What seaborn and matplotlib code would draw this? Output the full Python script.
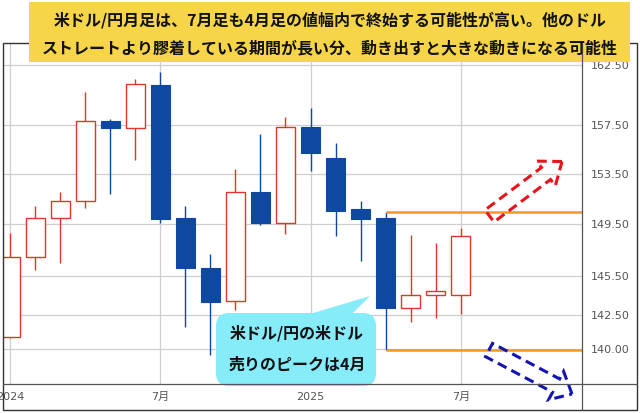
import matplotlib
matplotlib.use("Agg")
import numpy as np
import pandas as pd
import matplotlib.pyplot as plt
import seaborn as sns
from matplotlib.patches import FancyBboxPatch, Polygon, FancyArrow, Rectangle
from matplotlib.ticker import FixedLocator, FixedFormatter, NullLocator

# 米ドル/円 月足 (始値・高値・安値・終値)
months = ['2024-01', '2024-02', '2024-03', '2024-04', '2024-05', '2024-06',
          '2024-07', '2024-08', '2024-09', '2024-10', '2024-11', '2024-12',
          '2025-01', '2025-02', '2025-03', '2025-04', '2025-05', '2025-06',
          '2025-07']
opens = [140.9, 146.9, 149.95, 151.3, 157.8, 157.2, 160.8, 149.97, 146.1, 143.6,
         152.0, 149.6, 157.3, 154.8, 150.7, 150.0, 143.05, 144.0, 144.0]
highs = [148.8, 150.9, 152.0, 160.2, 158.0, 161.3, 161.9, 150.9, 147.2, 153.9,
         156.75, 158.1, 158.9, 156.0, 151.3, 150.45, 148.65, 148.0, 149.2]
lows = [140.8, 145.9, 146.5, 150.8, 151.9, 154.6, 149.6, 141.6, 139.6, 142.9,
        149.45, 148.7, 153.7, 148.6, 146.6, 139.9, 142.0, 142.3, 142.6]
closes = [146.9, 149.95, 151.3, 157.8, 157.2, 160.9, 149.9, 146.1, 143.5, 152.0,
          149.6, 157.3, 155.2, 150.55, 149.9, 143.05, 144.0, 144.3, 148.6]

# 4月足の値幅
range_start = '2025-04'
range_levels = [150.45, 139.9]

y_ticks = [140.00, 142.50, 145.50, 149.50, 153.50, 157.50, 162.50]
x_tick_months = ['2024-01', '2024-07', '2025-01', '2025-07']
x_tick_labels = ['2024', '7月', '2025', '7月']

title_lines = ['米ドル/円月足は、7月足も4月足の値幅内で終始する可能性が高い。他のドル',
               'ストレートより膠着している期間が長い分、動き出すと大きな動きになる可能性']
callout_lines = ['米ドル/円の米ドル', '売りのピークは4月']

UP = '#e0352b'
DOWN = '#0f48a0'
ORANGE = '#f29a1f'

sns.set_theme(style='white')
plt.rcParams['font.family'] = ['DejaVu Sans', 'Noto Sans CJK JP']

df = pd.DataFrame({'month': months, 'open': opens, 'high': highs,
                   'low': lows, 'close': closes})
df['x'] = np.arange(len(df))
df['up'] = df['close'] >= df['open']
x_of = {m: i for i, m in enumerate(months)}
x_left, x_right = -0.28, 22.84

fig = plt.figure(figsize=(6.4, 4.13), dpi=100)
W, H = 640, 413
ax = fig.add_axes([3 / W, (H - 384) / H, 579 / W, 341 / H])
ax.set_yscale('log')

up = df[df['up']]
dn = df[~df['up']]
body_w = 0.76

# 陰線
ax.vlines(dn['x'], dn['low'], dn['high'], color=DOWN, lw=1.0, zorder=2)
ax.bar(dn['x'], dn['open'] - dn['close'], bottom=dn['close'], width=body_w,
       color=DOWN, edgecolor=DOWN, lw=0.8, zorder=3)
# 陽線
ax.vlines(up['x'], up['low'], up['open'], color=UP, lw=1.0, zorder=2)
ax.vlines(up['x'], up['close'], up['high'], color=UP, lw=1.0, zorder=2)
ax.bar(up['x'], up['close'] - up['open'], bottom=up['open'], width=body_w,
       facecolor='white', edgecolor=UP, lw=1.0, zorder=3)

ax.hlines(range_levels, x_of[range_start], x_right, color=ORANGE, lw=1.8, zorder=4)

ax.set_xlim(x_left, x_right)
ax.set_ylim(137.46, 164.4)
ax.yaxis.tick_right()
ax.yaxis.set_major_locator(FixedLocator(y_ticks))
ax.yaxis.set_major_formatter(FixedFormatter([f'{v:.2f}' for v in y_ticks]))
ax.yaxis.set_minor_locator(NullLocator())
ax.set_xticks([x_of[m] for m in x_tick_months])
ax.set_xticklabels(x_tick_labels)
ax.tick_params(axis='both', length=0, labelsize=8, labelcolor='#555555')
ax.tick_params(axis='y', pad=6)
ax.tick_params(axis='x', pad=6)
ax.grid(True, color='#cfcfcf', lw=0.9)
ax.set_axisbelow(True)
for s in ax.spines.values():
    s.set_visible(False)

# 装飾用の重ね合わせ (ピクセル座標)
ov = fig.add_axes([0, 0, 1, 1], zorder=5)
ov.set_xlim(0, W)
ov.set_ylim(H, 0)
ov.axis('off')
ov.patch.set_alpha(0)

ov.add_patch(Rectangle((3, 43), 634, 367, fill=False, ec='#333333', lw=1.0))
ov.plot([582, 582], [43, 410], color='#555555', lw=0.9)
ov.plot([3, 637], [384, 384], color='#555555', lw=0.9)

ov.add_patch(Rectangle((29, 2), 601, 60, fc='#f6d648', ec='none'))
for i, line in enumerate(title_lines):
    ov.text(330, 20 + 28 * i, line, ha='center', va='center', fontsize=11.5,
            fontweight='bold', color='#111111', family=['Noto Sans CJK JP', 'DejaVu Sans'])

CYAN = '#86ecfa'
ov.add_patch(FancyBboxPatch((216, 313), 160, 73,
                            boxstyle='round,pad=0,rounding_size=13',
                            fc=CYAN, ec='none'))
ov.add_patch(Polygon([(310, 314), (370, 296), (352, 314)], closed=True,
                     fc=CYAN, ec='none'))
for i, line in enumerate(callout_lines):
    ov.text(297, 333 + 32 * i, line, ha='center', va='center', fontsize=11.5,
            fontweight='bold', color='#111111', family=['Noto Sans CJK JP', 'DejaVu Sans'])

ov.add_patch(FancyArrow(489.5, 216, 72.5, -54.5, width=15, head_width=31,
                        head_length=20, length_includes_head=True, fill=False,
                        ec='#e8141c', lw=2.2, ls=(0, (3.2, 1.8))))
ov.add_patch(FancyArrow(489, 350, 83, 44, width=15, head_width=32,
                        head_length=18, length_includes_head=True, fill=False,
                        ec='#1414b4', lw=2.2, ls=(0, (3.2, 1.8))))

fig.savefig('out.png', dpi=100)
